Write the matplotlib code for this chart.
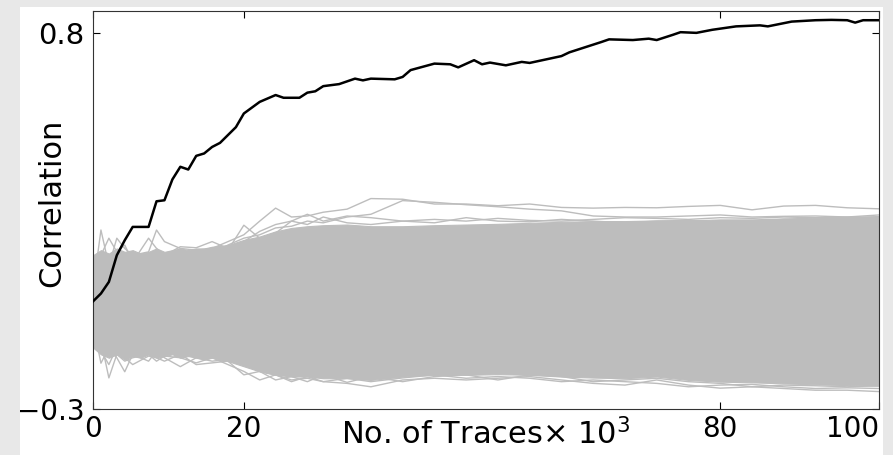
import matplotlib
matplotlib.use('Agg')
import matplotlib.pyplot as plt
from matplotlib.patches import Rectangle

plt.rcParams['font.family'] = ['DejaVu Sans']
plt.rcParams['mathtext.fontset'] = 'dejavusans'

# correct key guess (black trace)
trace_x = [1, 2, 3, 4, 5, 6, 8, 9, 10, 11, 12, 13, 14, 15, 16, 17, 19, 20, 22, 24, 25, 27, 28, 29, 30,
           32, 34, 35, 36, 39, 40, 41, 44, 46, 47, 49, 50, 51, 53, 55, 56, 58, 60, 61,
           65, 66, 69, 71, 72, 74, 75, 77, 79, 82, 85, 86, 89, 92, 94, 96, 97, 98, 100]
key_corr = [0.015, 0.038, 0.072, 0.15, 0.194, 0.233, 0.233, 0.308, 0.311, 0.372, 0.409, 0.401, 0.441, 0.448,
            0.467, 0.479, 0.525, 0.565, 0.599, 0.619, 0.611, 0.611, 0.626, 0.630, 0.645,
            0.651, 0.667, 0.662, 0.667, 0.665, 0.672, 0.692, 0.711, 0.709, 0.700, 0.721, 0.709, 0.714,
            0.706, 0.716, 0.713, 0.723, 0.733, 0.744, 0.774, 0.782, 0.780, 0.784, 0.780, 0.795, 0.803,
            0.801, 0.810, 0.820, 0.823, 0.820, 0.834, 0.838, 0.839, 0.838, 0.831, 0.838, 0.838]

# envelope of the dense bundle of wrong guesses
band_x = [1, 2, 3, 4, 5, 6, 7, 8, 9, 10, 11, 12, 13, 14, 15, 16, 18, 20, 22, 24, 26, 28, 30, 33, 36,
          40, 44, 48, 52, 56, 60, 64, 68, 72, 76, 80, 84, 88, 92, 96, 100]
band_hi = [0.15, 0.165, 0.155, 0.17, 0.16, 0.165, 0.155, 0.16, 0.17, 0.16, 0.165, 0.17, 0.165, 0.17, 0.17,
           0.175, 0.18, 0.195, 0.205, 0.22, 0.23, 0.235, 0.238, 0.24, 0.235, 0.235, 0.238, 0.24, 0.242,
           0.245, 0.248, 0.25, 0.25, 0.252, 0.252, 0.255, 0.255, 0.258, 0.26, 0.262, 0.265]
band_lo = [-0.12, -0.14, -0.15, -0.14, -0.155, -0.145, -0.15, -0.14, -0.15, -0.145, -0.14, -0.15, -0.145,
           -0.15, -0.155, -0.15, -0.16, -0.175, -0.19, -0.2, -0.205, -0.205, -0.21, -0.21, -0.215, -0.205,
           -0.2, -0.2, -0.198, -0.2, -0.205, -0.208, -0.21, -0.205, -0.215, -0.22, -0.222, -0.225, -0.228,
           -0.23, -0.232]

# wrong guesses that stick out of the bundle
out_x = [1, 2, 3, 4, 5, 6, 8, 9, 10, 12, 14, 16, 18, 20, 22, 24, 26, 28, 30, 33, 36, 40, 44, 48, 52, 56,
         60, 64, 68, 72, 76, 80, 84, 88, 92, 96, 100]
top_a = [0.02, 0.08, 0.1, 0.06, 0.12, 0.1, 0.13, 0.12, 0.14, 0.16, 0.15, 0.17, 0.19, 0.21, 0.25, 0.288,
         0.262, 0.265, 0.276, 0.285, 0.316, 0.314, 0.30, 0.30, 0.295, 0.30, 0.29, 0.288, 0.29, 0.289,
         0.293, 0.296, 0.283, 0.294, 0.296, 0.289, 0.286]
top_b = [-0.02, 0.05, 0.09, 0.11, 0.08, 0.12, 0.1, 0.14, 0.13, 0.15, 0.16, 0.155, 0.18, 0.2, 0.21, 0.23,
         0.235, 0.25, 0.245, 0.262, 0.27, 0.31, 0.305, 0.298, 0.292, 0.285, 0.28, 0.265, 0.262, 0.262,
         0.265, 0.268, 0.262, 0.264, 0.265, 0.262, 0.268]
top_c = [0.05, 0.224, 0.12, 0.2, 0.17, 0.15, 0.16, 0.224, 0.19, 0.17, 0.165, 0.17, 0.165, 0.238, 0.2,
         0.215, 0.25, 0.24, 0.262, 0.245, 0.24, 0.25, 0.255, 0.25, 0.258, 0.252, 0.25, 0.255, 0.26, 0.258,
         0.255, 0.26, 0.258, 0.262, 0.26, 0.262, 0.26]
top_d = [0.1, 0.15, 0.2, 0.16, 0.18, 0.13, 0.2, 0.17, 0.15, 0.175, 0.172, 0.19, 0.17, 0.19, 0.22, 0.24,
         0.25, 0.27, 0.25, 0.265, 0.26, 0.25, 0.245, 0.26, 0.25, 0.248, 0.255, 0.25, 0.245, 0.25, 0.252,
         0.248, 0.25, 0.255, 0.25, 0.255, 0.258]
bot_a = [-0.05, -0.166, -0.12, -0.15, -0.191, -0.14, -0.16, -0.13, -0.15, -0.176, -0.15, -0.16, -0.155,
         -0.17, -0.19, -0.2, -0.215, -0.21, -0.22, -0.225, -0.235, -0.215, -0.21, -0.215, -0.21, -0.205,
         -0.215, -0.225, -0.23, -0.215, -0.23, -0.239, -0.235, -0.24, -0.245, -0.245, -0.249]
bot_b = [0.0, -0.1, -0.209, -0.14, -0.16, -0.15, -0.14, -0.16, -0.145, -0.15, -0.165, -0.15, -0.17,
         -0.19, -0.215, -0.2, -0.22, -0.205, -0.22, -0.21, -0.22, -0.209, -0.2, -0.21, -0.205, -0.21,
         -0.22, -0.215, -0.22, -0.225, -0.235, -0.23, -0.228, -0.235, -0.24, -0.238, -0.24]
bot_c = [-0.08, -0.13, -0.17, -0.12, -0.15, -0.17, -0.145, -0.15, -0.16, -0.14, -0.17, -0.165, -0.16,
         -0.2, -0.19, -0.215, -0.205, -0.22, -0.2, -0.222, -0.205, -0.22, -0.205, -0.2, -0.215, -0.2,
         -0.205, -0.22, -0.215, -0.21, -0.22, -0.225, -0.235, -0.23, -0.232, -0.235, -0.232]

xtick_pos = [1, 20, 80, 100]
xtick_lab = ['0', '20', '80', '100']
ytick_pos = [-0.3, 0.8]
ytick_lab = ['\u22120.3', '0.8']

grey = '#bdbdbd'

fig = plt.figure(figsize=(8.93, 4.55), dpi=100, facecolor='#e8e8e8')
fig.patches.append(Rectangle((20 / 893, 0), 863 / 893, 448 / 455, transform=fig.transFigure,
                             facecolor='white', edgecolor='none', zorder=-1))
ax = fig.add_axes([93 / 893, 1 - 409 / 455, 786 / 893, 398 / 455])

ax.fill_between(band_x, band_lo, band_hi, facecolor=grey, edgecolor=grey, lw=0.8)
for tr in [top_a, top_b, top_c, top_d, bot_a, bot_b, bot_c]:
    ax.plot(out_x, tr, color=grey, lw=1.0)
ax.plot(trace_x, key_corr, color='k', lw=1.8, zorder=5)

ax.set_xlim(1, 100)
ax.set_ylim(-0.3, 0.865)
ax.set_xticks(xtick_pos)
ax.set_xticklabels(xtick_lab)
ax.set_yticks(ytick_pos)
ax.set_yticklabels(ytick_lab)
ax.tick_params(direction='in', top=True, right=True, length=5, width=0.8, labelsize=20)
ax.tick_params(axis='x', pad=4)
ax.tick_params(axis='y', pad=6)
ax.get_xticklabels()[-1].set_horizontalalignment('right')
ax.get_yticklabels()[1].set_fontsize(21)
for s in ax.spines.values():
    s.set_linewidth(0.8)
    s.set_color('#333333')

ax.text(0.5, -0.09, 'No. of Traces\u00d7 10$^3$', transform=ax.transAxes,
        ha='center', va='baseline', fontsize=22)
ax.set_ylabel('Correlation', fontsize=22)
ax.yaxis.set_label_coords(-0.034, 0.518)

fig.savefig('out.png', dpi=100, facecolor=fig.get_facecolor())
